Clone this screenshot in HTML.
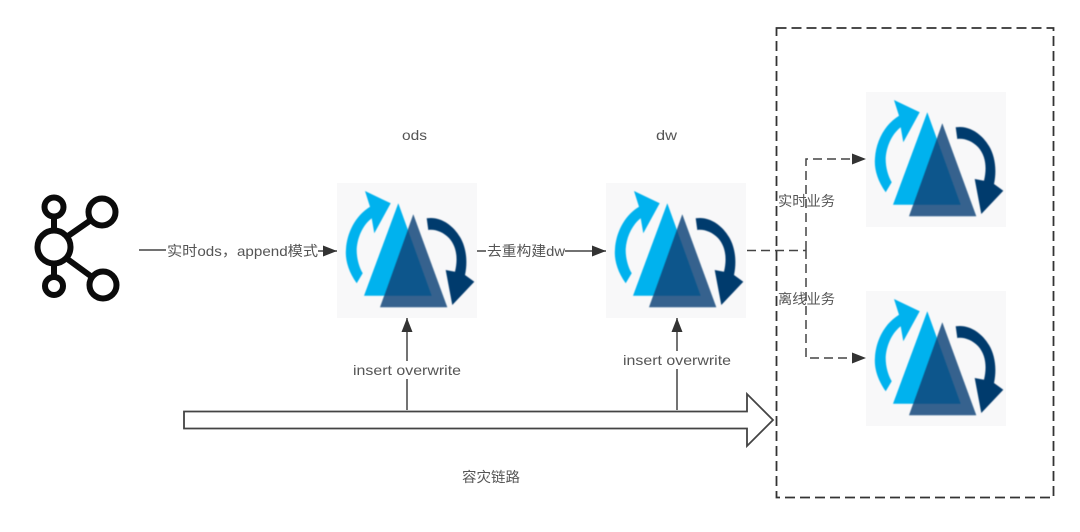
<!DOCTYPE html>
<html><head><meta charset="utf-8"><style>
html,body{margin:0;padding:0;background:#fff}
svg{display:block}
text{font-family:"Liberation Sans","Noto Sans CJK SC",sans-serif;font-size:14px;fill:#555}
</style></head><body>
<svg width="1080" height="532" viewBox="0 0 1080 532" xmlns="http://www.w3.org/2000/svg">
<defs>
<filter id="b" x="-5%" y="-5%" width="110%" height="110%"><feGaussianBlur stdDeviation="0.45"/></filter>
<g id="logo">
<rect width="140" height="135" fill="#f8f8f9"/>
<g filter="url(#b)">
<path d="M61.300 20.300L94.700 112.700H27Z" fill="#00b2ee"/>
<path d="M76.300 31.300L110.300 124.300H43Z" fill="#0a4478" fill-opacity=".83"/>
<path d="M19.700 100.300C11 88 8 76 9 66C10 50 18 33 33 23.700L28 8L53.700 20.300L37.300 50.300L34.700 35.300C26 42 20.500 54 19.700 66C19.500 75 22 84 25.700 90.300Z" fill="#00b2ee"/>
<path d="M89.700 35.300C103 33 116 42 123 54C129 64 131 78 128 92L137.300 98.700L115.300 122L108.700 87L118 88.700C121 76 120 64 112 55C106 49 98 46 91.300 47Z" fill="#013a6d"/>
</g>
</g>
<marker id="a" markerWidth="15" markerHeight="12" refX="14" refY="6" orient="auto" markerUnits="userSpaceOnUse"><path d="M0 0.500L14 6L0 11.500Z" fill="#333"/></marker>
</defs>
<rect x="776.500" y="28" width="277" height="469.500" fill="none" stroke="#333" stroke-width="1.800" stroke-dasharray="10 5"/>
<use href="#logo" x="337" y="183"/>
<use href="#logo" x="606" y="183"/>
<use href="#logo" x="866" y="92"/>
<use href="#logo" x="866" y="291"/>

<!-- Kafka icon -->
<g fill="none" stroke="#0b0b0b" stroke-width="6">
<circle cx="54" cy="207" r="9.500"/>
<circle cx="102" cy="212" r="13.500"/>
<circle cx="54" cy="247" r="16.500"/>
<circle cx="54" cy="286" r="9"/>
<circle cx="103" cy="285" r="13.500"/>
<path d="M54 216V231M54 263V277M68 236L91 220M66 258L92 277"/>
</g>

<g fill="none" stroke="#444" stroke-width="1.500">
<path d="M139 250H166"/>
<path d="M318 251H337" marker-end="url(#a)"/>
<path d="M477 251H486"/>
<path d="M565 251H606" marker-end="url(#a)"/>
<path d="M407 410V318" marker-end="url(#a)"/>
<path d="M677 410V318" marker-end="url(#a)"/>
</g>
<g fill="none" stroke="#444" stroke-width="1.500" stroke-dasharray="9 5">
<path d="M747 250.500H806"/>
<path d="M806 250V159H866" marker-end="url(#a)"/>
<path d="M806 250V358H866" marker-end="url(#a)"/>
</g>
<path d="M184 411.500H747V394L773 420L747 446V428.500H184Z" fill="#fff" stroke="#444" stroke-width="1.800"/>

<text x="402" y="140" textLength="25" lengthAdjust="spacingAndGlyphs">ods</text>
<text x="656" y="140" textLength="21" lengthAdjust="spacingAndGlyphs">dw</text>
<text x="167" y="256" textLength="151" lengthAdjust="spacingAndGlyphs">实时ods，append模式</text>
<text x="487" y="256" textLength="78" lengthAdjust="spacingAndGlyphs">去重构建dw</text>
<text x="778" y="206" textLength="57" lengthAdjust="spacingAndGlyphs">实时业务</text>
<text x="778" y="304" textLength="57" lengthAdjust="spacingAndGlyphs">离线业务</text>
<rect x="353" y="361" width="108" height="18" fill="#fff"/>
<rect x="623" y="351" width="108" height="18" fill="#fff"/>
<text x="353" y="375" textLength="108" lengthAdjust="spacingAndGlyphs">insert overwrite</text>
<text x="623" y="365" textLength="108" lengthAdjust="spacingAndGlyphs">insert overwrite</text>
<text x="462" y="482" textLength="58" lengthAdjust="spacingAndGlyphs">容灾链路</text>
</svg>
</body></html>
